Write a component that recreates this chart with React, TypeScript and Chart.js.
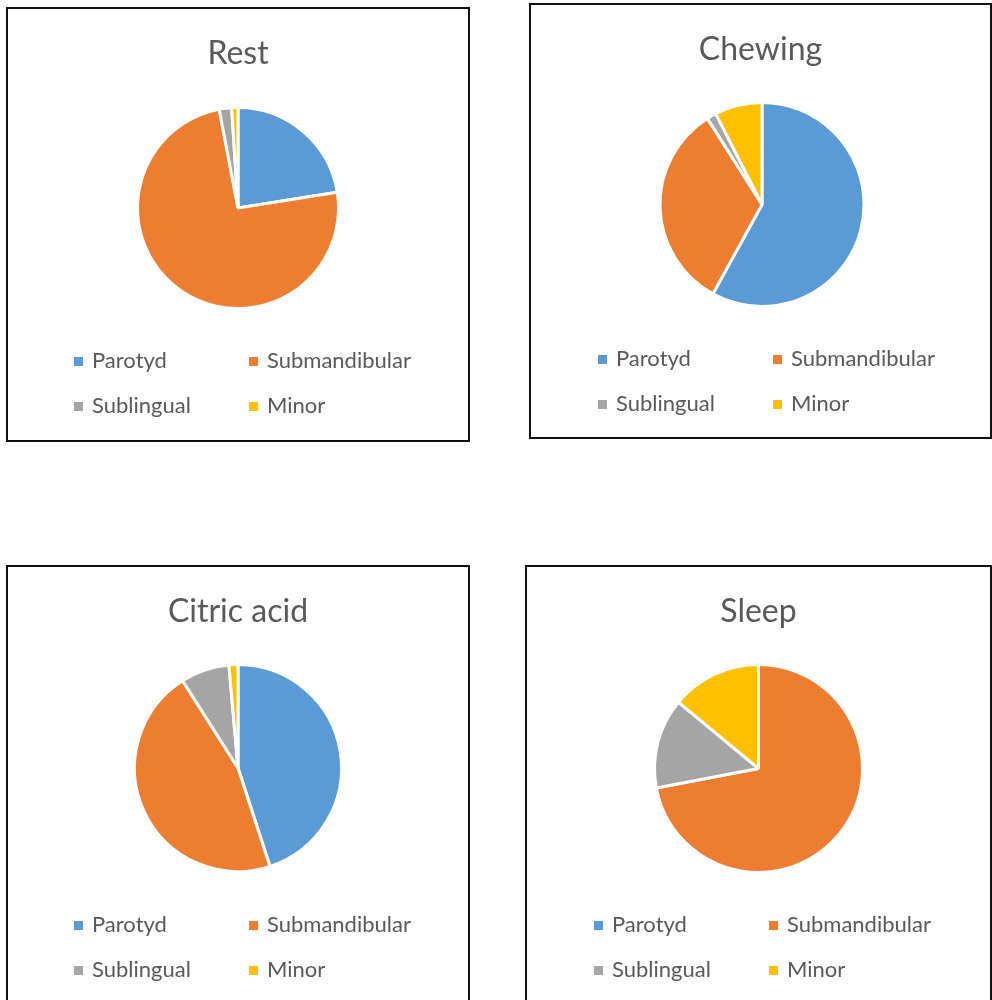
import React, { useEffect, useRef } from "react";
import { Chart, registerables } from "chart.js";

Chart.register(...registerables);

// ---- data ----
const categories = ["Parotyd", "Submandibular", "Sublingual", "Minor"];
const sliceColors = ["#5B9BD5", "#ED7D31", "#A5A5A5", "#FFC000"];
const chartTitles = ["Rest", "Chewing", "Citric acid", "Sleep"];
const restValues = [22.5, 74.5, 2, 1];
const chewingValues = [58, 33, 1.5, 7.5];
const citricValues = [45, 46, 7.6, 1.4];
const sleepValues = [0, 72, 14, 14];
const seriesValues = [restValues, chewingValues, citricValues, sleepValues];

// ---- layout (page pixel coordinates) ----
type PanelLayout = {
  left: number; top: number; width: number; height: number;
  cx: number; cy: number; r: number;
  titleBaseline: number;
  legendCols: number[]; legendRows: number[];
};
const panels: PanelLayout[] = [
  { left: 6, top: 7, width: 464, height: 435, cx: 238, cy: 208, r: 99, titleBaseline: 64, legendCols: [74, 249], legendRows: [368, 413] },
  { left: 529, top: 3, width: 463, height: 436, cx: 762, cy: 204.5, r: 100.5, titleBaseline: 60, legendCols: [598, 773], legendRows: [366, 411] },
  { left: 6, top: 565, width: 464, height: 450, cx: 238, cy: 768, r: 102, titleBaseline: 622, legendCols: [74, 249], legendRows: [932, 977] },
  { left: 525, top: 565, width: 467, height: 450, cx: 758.5, cy: 768.5, r: 102.5, titleBaseline: 622, legendCols: [594, 769], legendRows: [932, 977] },
];
const BORDER = 2;
const SLICE_BORDER = 3;
const TEXT_COLOR = "#595959";
const FONT_FAMILY = "Lato, 'Open Sans', sans-serif";

const textPlugin = {
  id: "panelText",
  afterDraw(chart: any, _args: any, opts: any) {
    const ctx: CanvasRenderingContext2D = chart.ctx;
    ctx.save();
    // title
    ctx.font = `32px ${FONT_FAMILY}`;
    ctx.fillStyle = TEXT_COLOR;
    ctx.textAlign = "center";
    ctx.textBaseline = "alphabetic";
    ctx.fillText(opts.title, opts.titleX, opts.titleY);
    // legend grid
    ctx.font = `22px ${FONT_FAMILY}`;
    ctx.textAlign = "left";
    opts.labels.forEach((lab: string, i: number) => {
      const x = opts.cols[i % 2];
      const y = opts.rows[Math.floor(i / 2)];
      ctx.fillStyle = opts.colors[i];
      ctx.fillRect(x, y - 11, 9, 9);
      ctx.fillStyle = TEXT_COLOR;
      ctx.fillText(lab, x + 18, y);
    });
    ctx.restore();
  },
};

function PiePanel({ idx }: { idx: number }) {
  const ref = useRef<HTMLCanvasElement | null>(null);
  const p = panels[idx];
  const ox = p.left + BORDER;
  const oy = p.top + BORDER;
  const W = p.width - 2 * BORDER;
  const H = p.height - 2 * BORDER;

  useEffect(() => {
    if (!ref.current) return;
    const cx = p.cx - ox;
    const cy = p.cy - oy;
    const rr = p.r + SLICE_BORDER;
    const chart = new Chart(ref.current, {
      type: "pie",
      data: {
        labels: categories,
        datasets: [
          {
            data: seriesValues[idx],
            backgroundColor: sliceColors,
            borderColor: "#FFFFFF",
            borderWidth: SLICE_BORDER,
          },
        ],
      },
      options: {
        responsive: false,
        animation: false,
        layout: {
          padding: {
            left: cx - rr,
            right: W - cx - rr,
            top: cy - rr,
            bottom: H - cy - rr,
          },
        },
        plugins: {
          legend: { display: false },
          title: { display: false },
          tooltip: { enabled: false },
          panelText: {
            title: chartTitles[idx],
            titleX: W / 2,
            titleY: p.titleBaseline - oy,
            labels: categories,
            colors: sliceColors,
            cols: p.legendCols.map((c) => c - ox),
            rows: p.legendRows.map((r) => r - oy),
          },
        } as any,
      },
      plugins: [textPlugin],
    });
    return () => chart.destroy();
  }, [idx]);

  return (
    <div
      style={{
        position: "absolute",
        left: p.left,
        top: p.top,
        width: p.width,
        height: p.height,
        border: `${BORDER}px solid #111`,
        boxSizing: "border-box",
        background: "#fff",
      }}
    >
      <canvas ref={ref} width={W} height={H} style={{ display: "block", width: W, height: H }} />
    </div>
  );
}

export default function App() {
  return (
    <div
      style={{
        position: "absolute",
        left: 0,
        top: 0,
        width: 992,
        height: 1000,
        overflow: "hidden",
        background: "#fff",
      }}
    >
      {panels.map((_, i) => (
        <PiePanel key={i} idx={i} />
      ))}
    </div>
  );
}
